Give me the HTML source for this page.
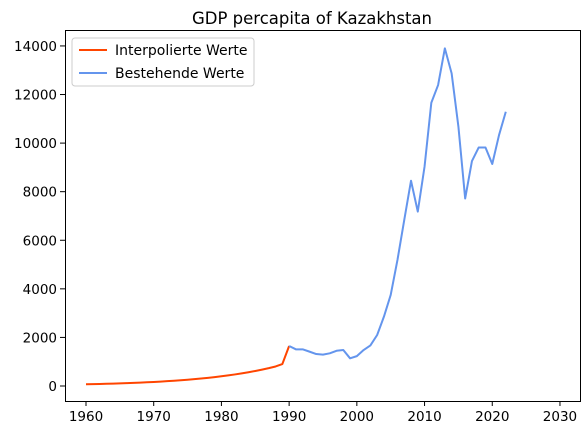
<!DOCTYPE html>
<html><head><meta charset="utf-8"><style>
body{margin:0;background:#fff;}
svg text{font-family:"DejaVu Sans","Liberation Sans",sans-serif;fill:#000;}
</style></head><body>
<svg id="chart" width="587" height="435" xmlns="http://www.w3.org/2000/svg">
<rect width="587" height="435" fill="#fff"/>
<text x="312" y="24" font-size="16.5" text-anchor="middle">GDP percapita of Kazakhstan</text>
<g id="marks"></g>
<g id="axes"></g>
<rect x="65.5" y="30.5" width="515" height="371" fill="none" stroke="#000" stroke-width="1"/>
<g>
<rect x="72" y="38" width="182" height="48" rx="3" fill="#fff" fill-opacity="0.8" stroke="#ccc"/>
<line x1="79" y1="50" x2="107" y2="50" stroke="#ff4500" stroke-width="2"/>
<text x="115" y="55" font-size="14">Interpolierte Werte</text>
<line x1="79" y1="73" x2="107" y2="73" stroke="#6495ed" stroke-width="2"/>
<text x="115" y="78" font-size="14">Bestehende Werte</text>
</g>
</svg>
<script>
const interpYears=[1960,1961,1962,1963,1964,1965,1966,1967,1968,1969,1970,1971,1972,1973,1974,1975,1976,1977,1978,1979,1980,1981,1982,1983,1984,1985,1986,1987,1988,1989,1990];
const interpValues=[70,76,83,91,99,108,118,129,140,153,167,182,199,217,237,258,282,307,336,366,400,436,476,519,567,618,675,736,804,905,1647];
const existYears=[1990,1991,1992,1993,1994,1995,1996,1997,1998,1999,2000,2001,2002,2003,2004,2005,2006,2007,2008,2009,2010,2011,2012,2013,2014,2015,2016,2017,2018,2019,2020,2021,2022];
const existValues=[1647,1510,1510,1415,1317,1290,1345,1450,1480,1140,1230,1480,1670,2100,2855,3750,5190,6830,8450,7180,9030,11660,12390,13900,12870,10680,7720,9260,9820,9820,9140,10330,11290];
const xTicks=[1960,1970,1980,1990,2000,2010,2020,2030];
const yTicks=[0,2000,4000,6000,8000,10000,12000,14000];
const NS="http://www.w3.org/2000/svg";
function sx(y){return 86+(y-1960)*6.771;}
function sy(v){return 386-v*0.02429;}
const marks=document.getElementById('marks'),axes=document.getElementById('axes');
function line(xs,vs,color,name){
  const p=document.createElementNS(NS,'polyline');
  p.setAttribute('points',xs.map((x,i)=>sx(x)+','+sy(vs[i])).join(' '));
  p.setAttribute('fill','none');p.setAttribute('stroke',color);p.setAttribute('stroke-width','2');
  p.setAttribute('stroke-linejoin','round');
  
  
  marks.appendChild(p);
}
line(interpYears,interpValues,'#ff4500','interpolated-line');
line(existYears,existValues,'#6495ed','existing-line');
xTicks.forEach(t=>{
  const x=sx(t);
  const l=document.createElementNS(NS,'line');
  l.setAttribute('x1',x);l.setAttribute('x2',x);l.setAttribute('y1',401);l.setAttribute('y2',406);l.setAttribute('stroke','#000');
  
  
  axes.appendChild(l);
  const tx=document.createElementNS(NS,'text');
  tx.setAttribute('x',x);tx.setAttribute('y',421);tx.setAttribute('font-size','13.5');tx.setAttribute('text-anchor','middle');
  tx.textContent=t;
  
  
  axes.appendChild(tx);
});
yTicks.forEach(t=>{
  const y=sy(t);
  const l=document.createElementNS(NS,'line');
  l.setAttribute('x1',60);l.setAttribute('x2',65);l.setAttribute('y1',y);l.setAttribute('y2',y);l.setAttribute('stroke','#000');
  
  
  axes.appendChild(l);
  const tx=document.createElementNS(NS,'text');
  tx.setAttribute('x',57);tx.setAttribute('y',y+5);tx.setAttribute('font-size','13.5');tx.setAttribute('text-anchor','end');
  tx.textContent=t;
  
  
  axes.appendChild(tx);
});
</script>
</body></html>
